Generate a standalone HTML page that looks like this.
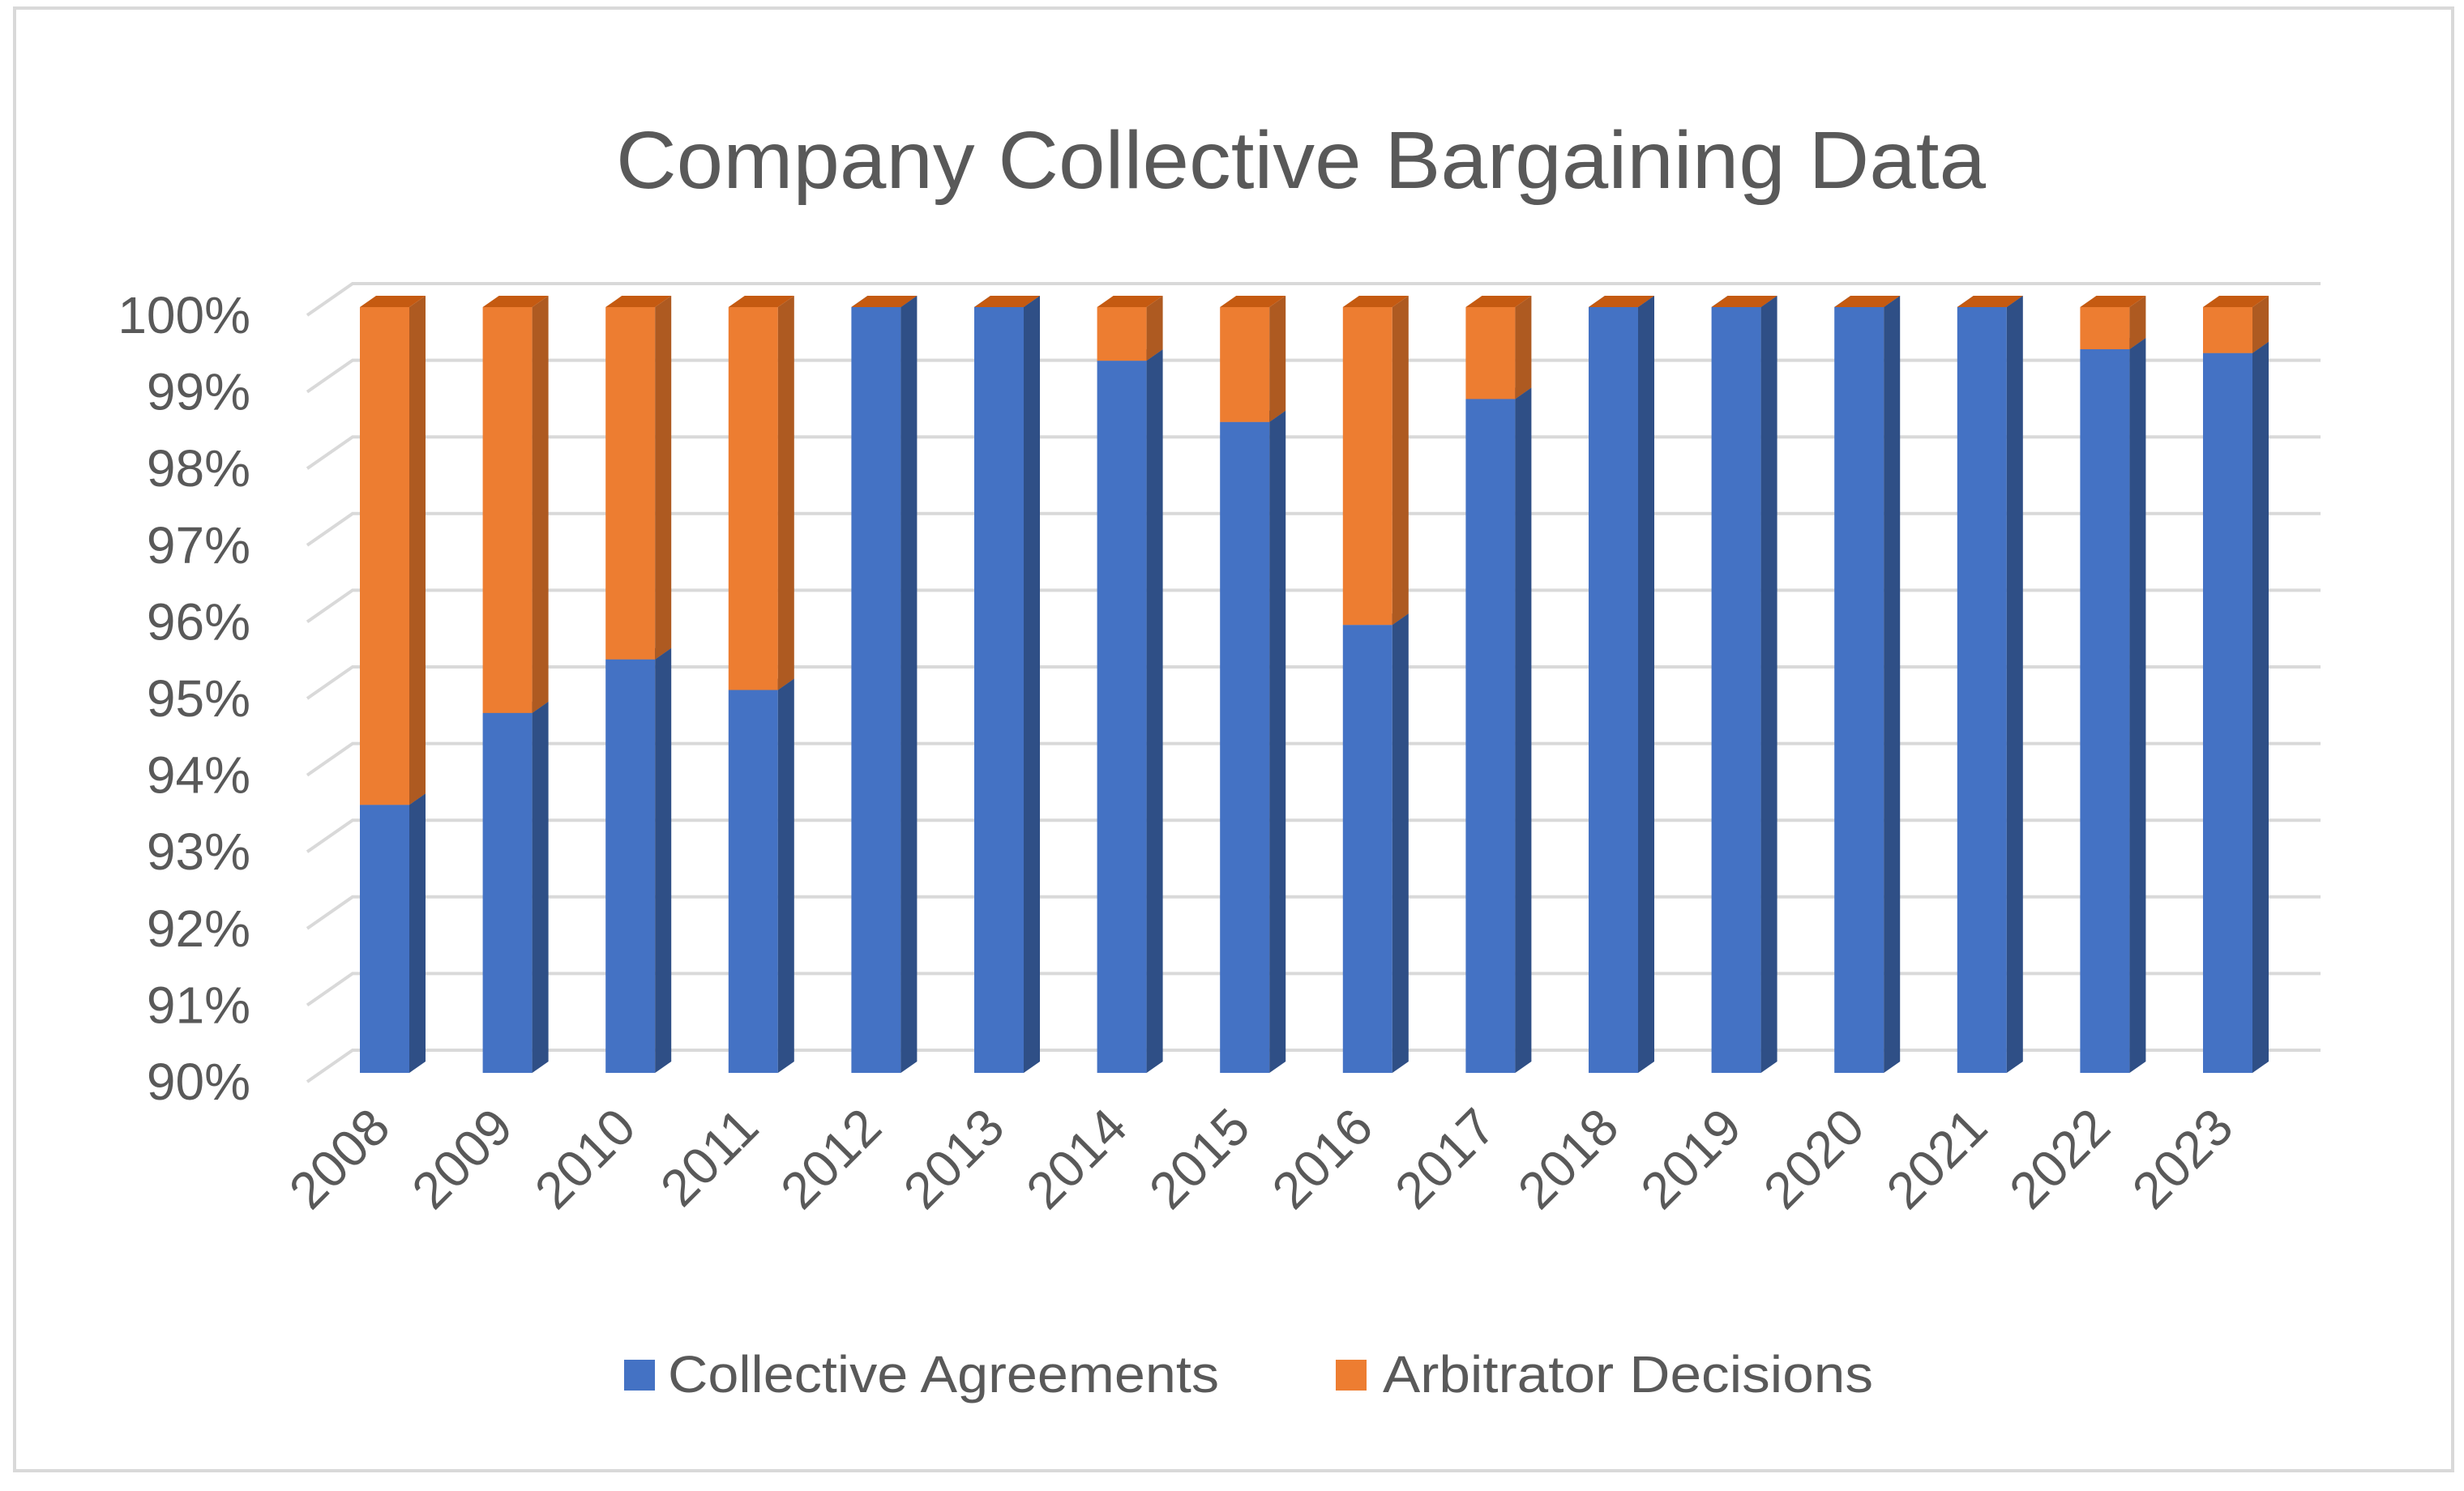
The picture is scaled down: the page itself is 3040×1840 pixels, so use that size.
<!DOCTYPE html>
<html><head><meta charset="utf-8"><style>
html,body{margin:0;padding:0;background:#fff;}
svg{display:block;font-family:"Liberation Sans",sans-serif;}
</style></head><body>
<svg id="chart" width="3040" height="1840" viewBox="0 0 3040 1840" xmlns="http://www.w3.org/2000/svg">
<rect x="18" y="10" width="3008" height="1805" fill="#fff" stroke="#d9d9d9" stroke-width="4"/>
<text x="1605" y="232" font-size="100" fill="#595959" text-anchor="middle" textLength="1690" lengthAdjust="spacingAndGlyphs">Company Collective Bargaining Data</text>
<g id="grid"></g>
<g id="ylabels"></g>
<g id="bars"></g>
<g id="xlabels"></g>
<g>
<rect x="770" y="1678" width="38" height="38" fill="#4472C4"/>
<text x="824" y="1718" font-size="64" fill="#595959" textLength="680" lengthAdjust="spacingAndGlyphs">Collective Agreements</text>
<rect x="1648" y="1678" width="38" height="38" fill="#ED7D31"/>
<text x="1706" y="1718" font-size="64" fill="#595959" textLength="605" lengthAdjust="spacingAndGlyphs">Arbitrator Decisions</text>
</g>
</svg>
<script>
const years = ["2008","2009","2010","2011","2012","2013","2014","2015","2016","2017","2018","2019","2020","2021","2022","2023"];
const collective = [93.5,94.7,95.4,95.0,100,100,99.3,98.5,95.85,98.8,100,100,100,100,99.45,99.4];
const arbitrator = [6.5,5.3,4.6,5.0,0,0,0.7,1.5,4.15,1.2,0,0,0,0,0.55,0.6];
const yTicks = [90,91,92,93,94,95,96,97,98,99,100];

const NS = "http://www.w3.org/2000/svg";
const yFront = v => 1324 - (v - 90) * 94.5;
const yBack = v => 1296 - (v - 90) * 94.6;
const xBar = i => 444 + i * 151.6;
const BW = 61, DX = 20, DY = -14;
function mk(tag, attrs, parent){const e=document.createElementNS(NS,tag);for(const k in attrs)e.setAttribute(k,attrs[k]);parent.appendChild(e);return e;}
const grid = document.getElementById('grid');
const yl = document.getElementById('ylabels');
yTicks.forEach(t=>{
  const yb = yBack(t);
  const p = mk('polyline',{points:`379,${yb+39} 435,${yb} 2863,${yb}`,fill:'none',stroke:'#d9d9d9','stroke-width':4},grid);
  
  
  const tx = mk('text',{x:309,y:yb+39+22,'font-size':64,fill:'#595959','text-anchor':'end'},yl);
  tx.textContent = t+'%';
  
  
});
const bars = document.getElementById('bars');
function seg(x, v0, v1, front, side, top, showTop, name){
  const g = mk('g',{},bars);
  
  
  const y0 = yFront(v0), y1 = yFront(v1);
  mk('rect',{x:x,y:y1,width:BW,height:Math.max(0,y0-y1),fill:front},g);
  mk('polygon',{points:`${x+BW},${y1} ${x+BW+DX},${y1+DY} ${x+BW+DX},${y0+DY} ${x+BW},${y0}`,fill:side},g);
  if(showTop) mk('polygon',{points:`${x},${y1} ${x+DX},${y1+DY} ${x+BW+DX},${y1+DY} ${x+BW},${y1}`,fill:top},g);
}
years.forEach((yr,i)=>{
  const x = xBar(i);
  const c = collective[i], a = arbitrator[i];
  seg(x,90,c,'#4472C4','#2F4F86','#2F5597',true,'bar-collective-'+yr);
  if(a>0) seg(x,c,c+a,'#ED7D31','#AE5A21','#C55A11',true,'bar-arbitrator-'+yr);
  else {
    const yt=yFront(c);
    const t = mk('polygon',{points:`${x},${yt} ${x+DX},${yt+DY} ${x+BW+DX},${yt+DY} ${x+BW},${yt}`,fill:'#C55A11'},bars);
    
    
  }
  const cx = x + BW/2 + 10;
  const tx = mk('text',{x:cx,y:1395,'font-size':64,fill:'#595959','text-anchor':'end',transform:`rotate(-45 ${cx} 1395)`},document.getElementById('xlabels'));
  tx.textContent = yr;
  
  
});
</script>
</body></html>
